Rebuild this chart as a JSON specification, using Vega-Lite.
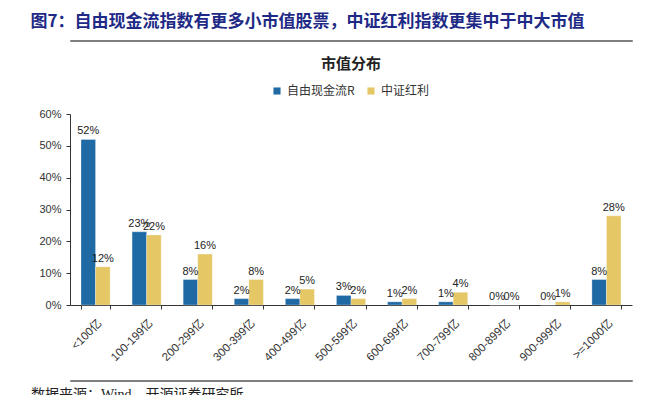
{
  "$schema": "https://vega.github.io/schema/vega-lite/v6.json",
  "padding": {"left": 30, "top": 13, "right": 8, "bottom": 2},
  "background": "white",
  "title": {
    "text": "图7：自由现金流指数有更多小市值股票，中证红利指数更集中于中大市值",
    "anchor": "start",
    "font": "Noto Sans CJK SC",
    "fontSize": 17,
    "fontWeight": "bold",
    "color": "#1e2a86",
    "offset": 6
  },
  "datasets": {
    "bars": [
      {"cat": "<100亿", "series": "自由现金流R", "value": 0.52},
      {"cat": "<100亿", "series": "中证红利", "value": 0.12},
      {"cat": "100-199亿", "series": "自由现金流R", "value": 0.23},
      {"cat": "100-199亿", "series": "中证红利", "value": 0.22},
      {"cat": "200-299亿", "series": "自由现金流R", "value": 0.08},
      {"cat": "200-299亿", "series": "中证红利", "value": 0.16},
      {"cat": "300-399亿", "series": "自由现金流R", "value": 0.02},
      {"cat": "300-399亿", "series": "中证红利", "value": 0.08},
      {"cat": "400-499亿", "series": "自由现金流R", "value": 0.02},
      {"cat": "400-499亿", "series": "中证红利", "value": 0.05},
      {"cat": "500-599亿", "series": "自由现金流R", "value": 0.03},
      {"cat": "500-599亿", "series": "中证红利", "value": 0.02},
      {"cat": "600-699亿", "series": "自由现金流R", "value": 0.01},
      {"cat": "600-699亿", "series": "中证红利", "value": 0.02},
      {"cat": "700-799亿", "series": "自由现金流R", "value": 0.01},
      {"cat": "700-799亿", "series": "中证红利", "value": 0.04},
      {"cat": "800-899亿", "series": "自由现金流R", "value": 0.0},
      {"cat": "800-899亿", "series": "中证红利", "value": 0.0},
      {"cat": "900-999亿", "series": "自由现金流R", "value": 0.0},
      {"cat": "900-999亿", "series": "中证红利", "value": 0.01},
      {"cat": ">=1000亿", "series": "自由现金流R", "value": 0.08},
      {"cat": ">=1000亿", "series": "中证红利", "value": 0.28}
    ]
  },
  "vconcat": [
    {
      "data": {"values": [{"lo": 0}]},
      "width": 562,
      "height": 1,
      "view": {"stroke": "#7f7f7f", "strokeWidth": 1, "fill": null},
      "mark": {"type": "point", "opacity": 0},
      "encoding": {}
    },
    {
      "data": {"name": "bars"},
      "width": 562,
      "height": 191,
      "title": {
        "text": "市值分布",
        "font": "Noto Sans CJK SC",
        "fontSize": 15,
        "fontWeight": "bold",
        "color": "#222222",
        "anchor": "middle",
        "offset": 36
      },
      "encoding": {
        "x": {
          "field": "cat",
          "type": "nominal",
          "sort": null,
          "scale": {"paddingInner": 0.43, "paddingOuter": 0.215},
          "axis": {
            "title": null,
            "labelAngle": -45,
            "labelFont": "Liberation Sans, Noto Sans CJK SC",
            "labelFontSize": 11.5,
            "labelColor": "#333333",
            "tickBand": "extent",
            "tickSize": 4,
            "tickColor": "#333333",
            "domainColor": "#333333",
            "labelPadding": 8
          }
        },
        "xOffset": {"field": "series", "type": "nominal", "sort": ["自由现金流R", "中证红利"]},
        "y": {
          "field": "value",
          "type": "quantitative",
          "scale": {"domain": [0, 0.6]},
          "axis": {
            "title": null,
            "format": ".0%",
            "values": [0, 0.1, 0.2, 0.3, 0.4, 0.5, 0.6],
            "grid": false,
            "labelFont": "Liberation Sans",
            "labelFontSize": 11,
            "labelColor": "#333333",
            "tickSize": 4,
            "tickColor": "#333333",
            "domainColor": "#333333",
            "labelPadding": 5,
            "minExtent": 39
          }
        }
      },
      "layer": [
        {
          "mark": {"type": "bar", "stroke": "white", "strokeWidth": 0.5, "strokeOpacity": 0.6},
          "encoding": {
            "color": {
              "field": "series",
              "type": "nominal",
              "sort": ["自由现金流R", "中证红利"],
              "scale": {"domain": ["自由现金流R", "中证红利"], "range": ["#1f6aa5", "#e5c766"]},
              "legend": {
                "title": null,
                "orient": "none",
                "legendX": 201,
                "legendY": 45,
                "direction": "horizontal",
                "symbolType": "square",
                "symbolSize": 50,
                "symbolStrokeWidth": 0,
                "labelFont": "Noto Sans CJK SC",
                "labelFontSize": 12,
                "labelColor": "#333333",
                "columnPadding": 10,
                "labelOffset": 4,
                "padding": 0
              }
            }
          }
        },
        {
          "mark": {"type": "text", "baseline": "alphabetic", "dy": -5, "font": "Liberation Sans", "fontSize": 11, "color": "#222222"},
          "encoding": {
            "text": {"field": "value", "type": "quantitative", "format": ".0%"}
          }
        }
      ]
    },
    {
      "data": {"values": [{"lo": 0}]},
      "width": 562,
      "height": 1,
      "view": {"stroke": "#7f7f7f", "strokeWidth": 1, "fill": null},
      "title": {
        "text": "数据来源：Wind、开源证券研究所",
        "orient": "bottom",
        "anchor": "start",
        "font": "Liberation Serif, Noto Sans CJK SC",
        "fontSize": 14,
        "fontWeight": "normal",
        "color": "#222222",
        "offset": 5,
        "dx": -39
      },
      "mark": {"type": "point", "opacity": 0},
      "encoding": {}
    }
  ],
  "spacing": 13,
  "config": {
    "view": {"stroke": null}
  }
}
